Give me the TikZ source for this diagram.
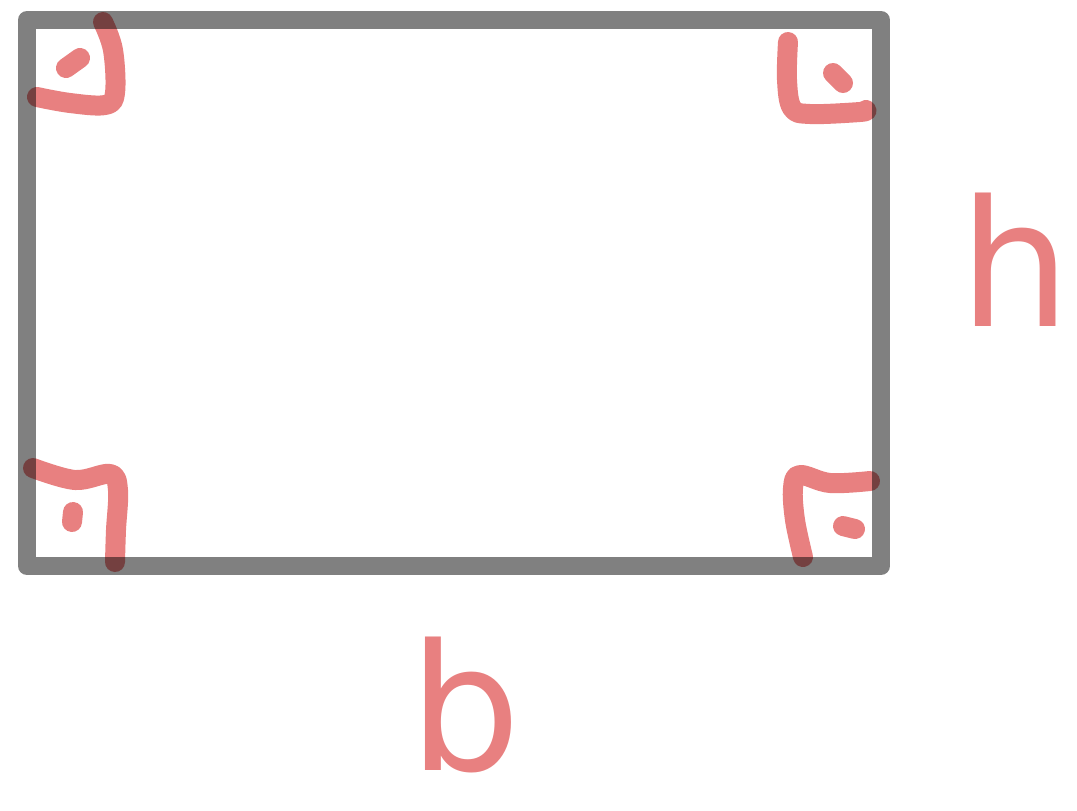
\documentclass[tikz,border=0pt]{standalone}
\usepackage{fontspec}
\setsansfont{DejaVu Sans}
\usetikzlibrary{positioning}
\definecolor{frameGray}{HTML}{808080}
\definecolor{markRed}{HTML}{E88080}

\begin{document}
\begin{tikzpicture}[
    frame/.style={draw=frameGray, line width=0.18cm, line join=round},
    anglemark/.style={draw=markRed, line width=0.2cm, line cap=round, line join=round},
    sidelabel/.style={text=markRed, font=\sffamily\fontsize{50}{50}\selectfont, inner sep=0pt}]
    \useasboundingbox (0,0) rectangle (10.77,8.10);

    \coordinate (TL) at (0.27,7.90);
    \coordinate (BR) at (8.81,2.44);

    \draw[frame] (TL) rectangle (BR);

    % right-angle marks
    \begin{scope}[blend mode=multiply]
        \draw[anglemark] plot[smooth, tension=0.6] coordinates {(0.37,7.13) (0.70,7.07) (1.05,7.05) (1.15,7.17) (1.13,7.60) (1.03,7.88)};
        \draw[anglemark] (0.66,7.42) -- (0.80,7.52);
        \draw[anglemark] plot[smooth, tension=0.6] coordinates {(7.88,7.68) (7.87,7.30) (7.92,7.02) (8.10,6.96) (8.60,6.98) (8.66,7.00)};
        \draw[anglemark] (8.33,7.37) -- (8.43,7.27);
        \draw[anglemark] plot[smooth, tension=0.6] coordinates {(0.33,3.42) (0.75,3.30) (1.10,3.36) (1.18,3.20) (1.16,2.80) (1.15,2.48)};
        \draw[anglemark] (0.73,2.98) -- (0.72,2.88);
        \draw[anglemark] plot[smooth, tension=0.6] coordinates {(8.03,2.53) (7.95,2.90) (7.93,3.22) (8.00,3.35) (8.30,3.27) (8.70,3.29)};
        \draw[anglemark] (8.43,2.84) -- (8.55,2.81);
    \end{scope}

    % side labels
    \node[sidelabel] (h) at (10.15,5.50) {h};
    \node[sidelabel] (b) at (4.65,1.05) {b};
\end{tikzpicture}
\end{document}
